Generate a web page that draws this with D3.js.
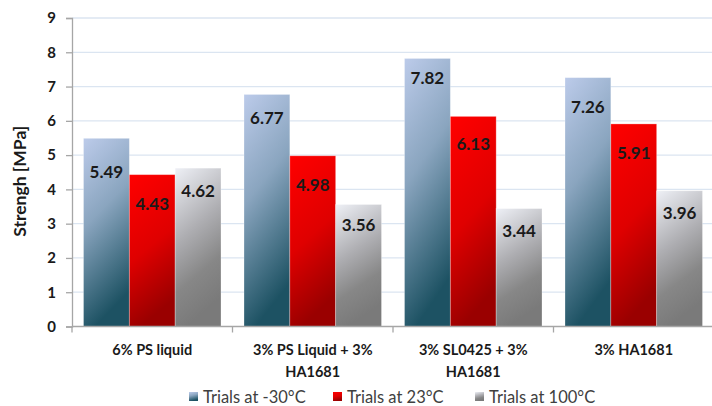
<!DOCTYPE html>
<html>
<head>
<meta charset="utf-8">
<script src="https://cdn.jsdelivr.net/npm/d3@7"></script>
<style>
  body { margin: 0; background: #fff; }
  svg { display: block; font-family: Lato, "Open Sans", sans-serif; }
</style>
</head>
<body>
<div id="chart"></div>
<script>
// data
const categories = [
    ["6% PS liquid"],
    ["3% PS Liquid + 3%", "HA1681"],
    ["3% SL0425 + 3%", "HA1681"],
    ["3% HA1681"]
];
const seriesNames = ["Trials at -30°C", "Trials at 23°C", "Trials at 100°C"];
const cold = [5.49, 6.77, 7.82, 7.26];
const room = [4.43, 4.98, 6.13, 5.91];
const hot = [4.62, 3.56, 3.44, 3.96];
const yTicks = [0, 1, 2, 3, 4, 5, 6, 7, 8, 9];

// label nudges below bar tops (px), per group then series
const labelDy = [
    [34, 29, 23],
    [24, 29, 21],
    [20, 28, 22],
    [29, 29, 22]
];

const W = 712, H = 406;
const plotLeft = 72, plotRight = 714, plotTop = 18, plotBottom = 326.5;

const svg = d3.select("#chart").append("svg")
    .attr("width", W)
    .attr("height", H);

// gradients for the three series
const defs = svg.append("defs");
const grads = [
    { id: "gBlue", stops: [["0%", "#bccbea"], ["45%", "#8aa5bf"], ["100%", "#1d5263"]] },
    { id: "gRed", stops: [["0%", "#ff0000"], ["55%", "#df0000"], ["100%", "#9a0000"]] },
    { id: "gGray", stops: [["0%", "#eef0f6"], ["45%", "#aeaeb2"], ["75%", "#878787"], ["100%", "#7a7a7a"]] }
];
grads.forEach(g => {
    const lg = defs.append("linearGradient")
        .attr("id", g.id)
        .attr("x1", 0).attr("y1", 0)
        .attr("x2", 0.25).attr("y2", 1);
    g.stops.forEach(s => lg.append("stop").attr("offset", s[0]).attr("stop-color", s[1]));
});
const fills = ["url(#gBlue)", "url(#gRed)", "url(#gGray)"];

const x = d3.scaleBand()
    .domain(d3.range(categories.length))
    .range([plotLeft, plotRight]);

const xSub = d3.scaleBand()
    .domain(d3.range(seriesNames.length))
    .range([11.5, x.bandwidth() - 11.5]);

const y = d3.scaleLinear()
    .domain([0, 9])
    .range([plotBottom, plotTop]);

// grid lines
svg.append("g")
    .selectAll("line")
    .data(yTicks.filter(d => d > 0))
    .enter()
    .append("line")
    .attr("x1", plotLeft)
    .attr("x2", W)
    .attr("y1", d => y(d))
    .attr("y2", d => y(d))
    .attr("stroke", "#dbe5f1")
    .attr("stroke-width", 1.3);

// bars
const rows = categories.map((c, i) => [cold[i], room[i], hot[i]]);

const groups = svg.selectAll(".grp")
    .data(rows)
    .enter()
    .append("g")
    .attr("class", "grp")
    .attr("transform", (d, i) => `translate(${x(i)},0)`);

groups.selectAll("rect")
    .data(d => d)
    .enter()
    .append("rect")
    .attr("x", (d, j) => xSub(j))
    .attr("y", d => y(d))
    .attr("width", xSub.bandwidth())
    .attr("height", d => y(0) - y(d))
    .attr("fill", (d, j) => fills[j])
    .attr("stroke", "rgba(255,255,255,0.35)")
    .attr("stroke-width", 0.8);

groups.each(function(d, i) {
    d3.select(this).selectAll("text")
        .data(d)
        .enter()
        .append("text")
        .attr("x", (v, j) => xSub(j) + xSub.bandwidth() / 2)
        .attr("y", (v, j) => y(v) + labelDy[i][j])
        .attr("dy", "0.35em")
        .attr("text-anchor", "middle")
        .attr("font-size", "17px")
        .attr("font-weight", "bold")
        .attr("fill", "#1a1a1a")
        .text(v => v.toFixed(2));
});

// y axis
const yAxis = svg.append("g")
    .attr("transform", `translate(${plotLeft},0)`)
    .call(d3.axisLeft(y).tickValues(yTicks).tickSize(6).tickPadding(10));
yAxis.select(".domain").attr("stroke", "#a6a6a6").attr("stroke-width", 1.3);
yAxis.selectAll(".tick line").attr("stroke", "#a6a6a6").attr("stroke-width", 1.3);
yAxis.selectAll(".tick text")
    .attr("font-family", "Lato, sans-serif")
    .attr("font-size", "15px")
    .attr("font-weight", "bold")
    .attr("fill", "#1a1a1a");

// x axis baseline with category separators
const xAxis = svg.append("g")
    .attr("transform", `translate(0,${plotBottom})`);
xAxis.append("line")
    .attr("x1", plotLeft)
    .attr("x2", W)
    .attr("stroke", "#a6a6a6")
    .attr("stroke-width", 1.3);
xAxis.selectAll(".sep")
    .data(d3.range(categories.length))
    .enter()
    .append("line")
    .attr("class", "sep")
    .attr("x1", i => x(i))
    .attr("x2", i => x(i))
    .attr("y1", 0)
    .attr("y2", 6)
    .attr("stroke", "#a6a6a6")
    .attr("stroke-width", 1.3);

// category labels
const catLabels = svg.selectAll(".cat")
    .data(categories)
    .enter()
    .append("text")
    .attr("class", "cat")
    .attr("text-anchor", "middle")
    .attr("font-size", "14.5px")
    .attr("font-weight", "bold")
    .attr("fill", "#1a1a1a");
catLabels.selectAll("tspan")
    .data((d, i) => d.map(t => ({ t, i })))
    .enter()
    .append("tspan")
    .attr("x", d => x(d.i) + x.bandwidth() / 2)
    .attr("y", (d, k) => 355 + k * 22)
    .text(d => d.t);

// y title
svg.append("text")
    .attr("transform", `translate(26,${(plotTop + plotBottom) / 2 + 9}) rotate(-90)`)
    .attr("text-anchor", "middle")
    .attr("font-size", "17.5px")
    .attr("font-weight", "bold")
    .attr("fill", "#1a1a1a")
    .text("Strengh [MPa]");

// legend
const legendX = [189, 333, 475];
const legend = svg.selectAll(".leg")
    .data(seriesNames)
    .enter()
    .append("g")
    .attr("class", "leg")
    .attr("transform", (d, i) => `translate(${legendX[i]},392)`);
legend.append("rect")
    .attr("width", 9)
    .attr("height", 9)
    .attr("fill", (d, i) => fills[i]);
legend.append("text")
    .attr("x", 14)
    .attr("y", 5)
    .attr("dy", "0.35em")
    .attr("font-size", "16.5px")
    .attr("fill", "#404040")
    .text(d => d);
</script>
</body>
</html>
